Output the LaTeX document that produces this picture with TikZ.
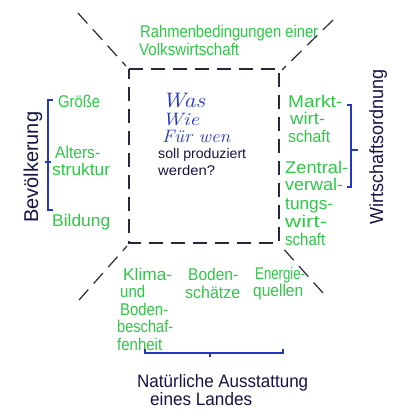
\documentclass[tikz,border=0pt]{standalone}
\usepackage{fontspec}
\setsansfont{Liberation Sans}
\usepackage{graphicx}
\definecolor{grn}{RGB}{45,200,70}
\definecolor{blu}{RGB}{35,55,195}
\definecolor{nvy}{RGB}{20,20,70}
\definecolor{dsh}{RGB}{40,40,60}
\newcommand\fitw[2]{\resizebox{#1pt}{\height}{#2}}
\tikzset{
  hand/.style={font=\sffamily\fontsize{17}{20}\selectfont, inner sep=0pt, anchor=base west},
  gtxt/.style={hand, text=grn},
  ntxt/.style={hand, text=nvy, font=\sffamily\fontsize{18}{21}\selectfont},
  small/.style={font=\sffamily\fontsize{14}{17}\selectfont},
  curs/.style={inner sep=0pt, anchor=base west, text=blu, font=\rmfamily\itshape\fontsize{18}{21}\selectfont},
  framel/.style={draw=dsh, line width=1.2pt, dash pattern=on 14pt off 8pt},
  brk/.style={draw=blu, line width=1.3pt}
}
\begin{document}
\begin{tikzpicture}[x=1pt,y=-1pt]
\useasboundingbox[fill=white] (0,0) rectangle (400,413);
% frame
\coordinate (tl) at (129,69);
\coordinate (tr) at (279,69);
\coordinate (br) at (279,243);
\coordinate (bl) at (129,243);
\draw[framel] (tl) -- (tr) -- (br) -- (bl) -- cycle;
% diagonals
\coordinate (d1a) at (78,13);  \coordinate (d1b) at (126,66);
\coordinate (d2a) at (333,20); \coordinate (d2b) at (282,70);
\coordinate (d3a) at (79,300); \coordinate (d3b) at (127,246);
\coordinate (d4a) at (323,293); \coordinate (d4b) at (281,246);
\draw[framel] (d1a) -- (d1b);
\draw[framel] (d2a) -- (d2b);
\draw[framel] (d3a) -- (d3b);
\draw[framel] (d4a) -- (d4b);
% top
\node[gtxt] (rb1) at (140,37) {\fitw{178}{Rahmenbedingungen einer}};
\node[gtxt] (rb2) at (139,55) {\fitw{100}{Volkswirtschaft}};
% center
\node[curs, font=\rmfamily\itshape\fontsize{21}{24}\selectfont] (was) at (162,107) {\fitw{43}{Was}};
\node[curs] (wie) at (162,125) {\fitw{37}{Wie}};
\node[curs] (fuer) at (162,142) {\fitw{68}{Für wen}};
\node[ntxt, small] (soll) at (158,158) {\fitw{88}{soll produziert}};
\node[ntxt, small] (werd) at (158,175) {\fitw{57}{werden?}};
% left
\node[gtxt] (gr) at (58,107) {\fitw{42}{Größe}};
\node[gtxt] (al1) at (55,158) {\fitw{45}{Alters-}};
\node[gtxt] (al2) at (52,175) {\fitw{58}{struktur}};
\node[gtxt] (bi) at (52,226) {\fitw{58}{Bildung}};
\node[ntxt, rotate=90, font=\sffamily\fontsize{20}{24}\selectfont] (bev) at (38,223) {\fitw{111}{Bevölkerung}};
\coordinate (lb1) at (53,100); \coordinate (lb2) at (48,100);
\coordinate (lb3) at (48,210); \coordinate (lb4) at (53,210);
\coordinate (lm1) at (45,162); \coordinate (lm2) at (51,162);
\draw[brk] (lb1) -- (lb2) -- (lb3) -- (lb4);
\draw[brk] (lm1) -- (lm2);
% right
\node[gtxt] (m1) at (288,107) {\fitw{54}{Markt-}};
\node[gtxt] (m2) at (290,124) {\fitw{35}{wirt-}};
\node[gtxt] (m3) at (288,142) {\fitw{42}{schaft}};
\node[gtxt] (z1) at (285,173) {\fitw{63}{Zentral-}};
\node[gtxt] (z2) at (285,190) {\fitw{58}{verwal-}};
\node[gtxt] (z3) at (285,209) {\fitw{48}{tungs-}};
\node[gtxt] (z4) at (285,227) {\fitw{42}{wirt-}};
\node[gtxt] (z5) at (285,245) {\fitw{40}{schaft}};
\node[ntxt, rotate=90, font=\sffamily\fontsize{19}{22}\selectfont] (wo) at (383,225) {\fitw{155}{Wirtschaftsordnung}};
\coordinate (rb1a) at (347,105); \coordinate (rb2a) at (351,105);
\coordinate (rb3a) at (351,187); \coordinate (rb4a) at (347,187);
\coordinate (rm1) at (351,150); \coordinate (rm2) at (358,150);
\draw[brk] (rb1a) -- (rb2a) -- (rb3a) -- (rb4a);
\draw[brk] (rm1) -- (rm2);
% bottom
\node[gtxt] (k1) at (123,280) {\fitw{49}{Klima-}};
\node[gtxt] (k2) at (120,297) {\fitw{25}{und}};
\node[gtxt] (k3) at (120,315) {\fitw{48}{Boden-}};
\node[gtxt] (k4) at (117,332) {\fitw{56}{beschaf-}};
\node[gtxt] (k5) at (117,350) {\fitw{45}{fenheit}};
\node[gtxt] (b1) at (188,280) {\fitw{50}{Boden-}};
\node[gtxt] (b2) at (185,298) {\fitw{55}{schätze}};
\node[gtxt] (e1) at (255,279) {\fitw{50}{Energie-}};
\node[gtxt] (e2) at (253,296) {\fitw{50}{quellen}};
\coordinate (bb1) at (145,349); \coordinate (bb2) at (145,353);
\coordinate (bb3) at (283,353); \coordinate (bb4) at (283,349);
\coordinate (bm1) at (210,353); \coordinate (bm2) at (210,357);
\draw[brk] (bb1) -- (bb2) -- (bb3) -- (bb4);
\draw[brk] (bm1) -- (bm2);
\node[ntxt] (na1) at (137,387) {\fitw{171}{Natürliche Ausstattung}};
\node[ntxt] (na2) at (150,405) {\fitw{102}{eines Landes}};
\end{tikzpicture}
\end{document}
